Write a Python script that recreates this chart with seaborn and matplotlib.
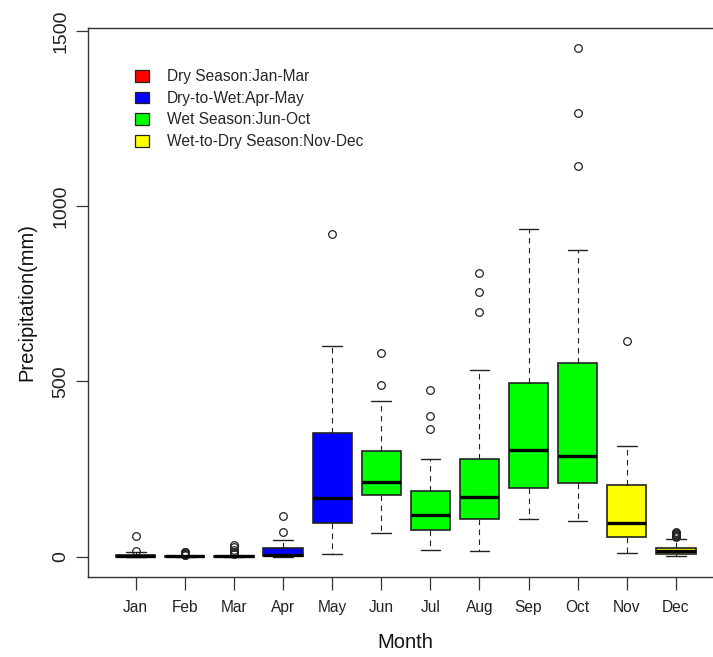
import matplotlib
matplotlib.use("Agg")
import matplotlib.pyplot as plt
from matplotlib.patches import Patch
import seaborn as sns

# Monthly precipitation summary (mm)
months = ["Jan", "Feb", "Mar", "Apr", "May", "Jun",
          "Jul", "Aug", "Sep", "Oct", "Nov", "Dec"]
q1 = [0, 0, 0, 1, 96, 176, 75, 107, 195, 209, 55, 7]
medians = [1, 0.5, 0.5, 6, 167, 212, 119, 170, 304, 287, 95, 17]
q3 = [5, 3, 3, 25, 353, 302, 187, 279, 496, 553, 204, 26]
whisker_low = [0, 0, 0, 0, 7, 68, 18, 16, 107, 101, 10, 2]
whisker_high = [13, 2, 3, 47, 600, 443, 279, 533, 934, 874, 315, 50]
outliers = [
    [16, 58],
    [4, 6, 8, 10, 12, 14],
    [8, 14, 20, 27, 33],
    [70, 115],
    [920],
    [491, 582],
    [365, 402, 474],
    [697, 755, 809],
    [],
    [1114, 1265, 1452],
    [616],
    [56, 59, 62, 65, 68, 71],
]

# Season grouping
season_labels = ["Dry Season:Jan-Mar", "Dry-to-Wet:Apr-May",
                 "Wet Season:Jun-Oct", "Wet-to-Dry Season:Nov-Dec"]
season_colors = ["#FF0000", "#0000FF", "#00FF00", "#FFFF00"]
month_season = [0, 0, 0, 1, 1, 2, 2, 2, 2, 2, 3, 3]

sns.set_theme(style="white")
plt.rcParams["font.family"] = ["Liberation Sans", "DejaVu Sans"]

W, H = 713, 657
fig = plt.figure(figsize=(W / 100, H / 100), dpi=100)
left_px, right_px, top_px, bottom_px = 87.6, 724.0, 28.0, 577.0
ax = fig.add_axes([left_px / W, (H - bottom_px) / H,
                   (right_px - left_px) / W, (bottom_px - top_px) / H])

stats = []
for i, m in enumerate(months):
    stats.append(dict(label=m, q1=q1[i], med=medians[i], q3=q3[i],
                      whislo=whisker_low[i], whishi=whisker_high[i],
                      fliers=outliers[i]))

edge = "#222222"
bp = ax.bxp(stats, positions=range(1, len(months) + 1), widths=0.8,
            patch_artist=True, showfliers=True,
            boxprops=dict(edgecolor=edge, linewidth=1.2),
            medianprops=dict(color="black", linewidth=2.4, solid_capstyle="butt"),
            whiskerprops=dict(color=edge, linewidth=0.8, linestyle=(0, (5, 4))),
            capprops=dict(color=edge, linewidth=1.0),
            capwidths=0.4,
            flierprops=dict(marker="o", markerfacecolor="none",
                            markeredgecolor="#222222", markersize=5.5,
                            markeredgewidth=0.9))
for patch, s in zip(bp["boxes"], month_season):
    patch.set_facecolor(season_colors[s])

ax.set_xlim(0.02, 12.98)
ax.set_ylim(-58, 1508)
ax.set_xticks(range(1, len(months) + 1))
ax.set_xticklabels(months, fontsize=11.2)
ax.set_yticks([0, 500, 1000, 1500])
ax.set_yticklabels(["0", "500", "1000", "1500"], fontsize=14,
                   rotation=90, va="center")
ax.tick_params(axis="x", length=9, width=0.9, color="#333333", pad=7.5,
               bottom=True, labelcolor="#222222")
ax.tick_params(axis="y", length=9, width=0.9, color="#333333", pad=4,
               left=True, labelcolor="#222222")

for side in ["left", "top", "bottom"]:
    ax.spines[side].set_visible(True)
    ax.spines[side].set_color("#333333")
    ax.spines[side].set_linewidth(1.0)
ax.spines["right"].set_visible(False)

ax.set_xlabel("Month", fontsize=14.5, labelpad=13, color="#111111")
ax.set_ylabel("Precipitation(mm)", fontsize=14.5, labelpad=12, color="#111111")

handles = [Patch(facecolor=c, edgecolor="#222222", linewidth=0.9)
           for c in season_colors]
ax.legend(handles, season_labels, loc="upper left", frameon=False,
          bbox_to_anchor=(0.065, 0.936), fontsize=11.2,
          handlelength=0.9, handleheight=0.8, handletextpad=1.15,
          labelspacing=0.42, borderaxespad=0)

fig.savefig("out.png", dpi=100)
